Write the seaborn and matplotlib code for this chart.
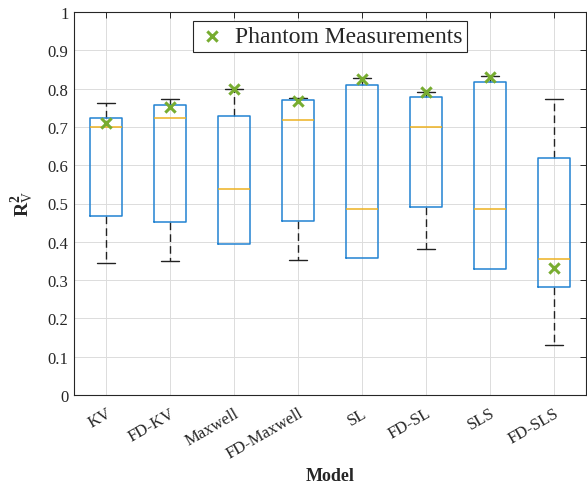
import numpy as np
import pandas as pd
import matplotlib
matplotlib.use("Agg")
import matplotlib.pyplot as plt
import matplotlib.colors as mcolors
import seaborn as sns

models = ["KV", "FD-KV", "Maxwell", "FD-Maxwell", "SL", "FD-SL", "SLS", "FD-SLS"]
lower_whisker = [0.345, 0.349, 0.394, 0.353, 0.358, 0.382, 0.330, 0.131]
q1 = [0.468, 0.452, 0.394, 0.454, 0.358, 0.491, 0.330, 0.283]
median = [0.699, 0.722, 0.537, 0.719, 0.485, 0.700, 0.485, 0.356]
q3 = [0.723, 0.757, 0.728, 0.771, 0.809, 0.778, 0.817, 0.618]
upper_whisker = [0.762, 0.773, 0.800, 0.775, 0.827, 0.792, 0.833, 0.774]
phantom = [0.710, 0.753, 0.800, 0.768, 0.825, 0.790, 0.830, 0.332]
yticks = [0, 0.1, 0.2, 0.3, 0.4, 0.5, 0.6, 0.7, 0.8, 0.9, 1]
ytick_labels = ["0", "0.1", "0.2", "0.3", "0.4", "0.5", "0.6", "0.7", "0.8", "0.9", "1"]

rows = []
for i, m in enumerate(models):
    for v in (lower_whisker[i], q1[i], median[i], q3[i], upper_whisker[i]):
        rows.append({"Model": m, "value": v})
df = pd.DataFrame(rows)
pf = pd.DataFrame({"Model": models, "value": phantom})

sns.set_style("white")
plt.rcParams["font.family"] = ["Liberation Serif", "DejaVu Serif"]
plt.rcParams["mathtext.fontset"] = "custom"
plt.rcParams["mathtext.rm"] = "Liberation Serif"
plt.rcParams["mathtext.bf"] = "Liberation Serif:bold"
plt.rcParams["mathtext.it"] = "Liberation Serif:italic"

fig = plt.figure(figsize=(5.87, 4.85), dpi=100)
ax = fig.add_axes([74 / 587, 89 / 485, 512 / 587, 383 / 485])

blue = "#2283d2"
orange = "#EDB120"
green = "#77AC30"
dark = "#262626"
whisk = "#222222"

sns.boxplot(data=df, x="Model", y="value", order=models, whis=(0, 100), width=0.5,
            fill=False, showfliers=False, ax=ax, color=blue, linewidth=1.1,
            boxprops=dict(color=blue, linewidth=1.1),
            medianprops=dict(color=orange, linewidth=1.1),
            whiskerprops=dict(color=whisk, linestyle=(0, (5.5, 3)), linewidth=1.0),
            capprops=dict(color=whisk, linewidth=1.0),
            capwidths=0.28)

# hide caps of zero-length whiskers (they sit on the box edge in the reference)
whisk_hex = mcolors.to_hex(whisk)
dashed = []
solid_dark = []
for ln in ax.lines:
    if mcolors.to_hex(ln.get_color()) != whisk_hex:
        ln.set_zorder(3.5)
        continue
    ln.set_zorder(2.5)
    ls = ln.get_linestyle()
    if ls in ("-", "solid"):
        solid_dark.append(ln)
    else:
        dashed.append(ln)
for cap in solid_dark:
    cx = np.mean(np.asarray(cap.get_xdata(), dtype=float))
    cy = float(np.asarray(cap.get_ydata(), dtype=float)[0])
    for w in dashed:
        wx = np.asarray(w.get_xdata(), dtype=float)
        wy = np.asarray(w.get_ydata(), dtype=float)
        if abs(wx[0] - cx) < 1e-6 and abs(wy[0] - wy[1]) < 1e-9 and abs(wy[0] - cy) < 1e-9:
            cap.set_visible(False)
            w.set_visible(False)

sns.scatterplot(data=pf, x="Model", y="value", marker="x", s=55, color=green,
                linewidth=2.2, label="Phantom Measurements", ax=ax, zorder=5)

ax.set_xlim(-0.5, 7.5)
ax.set_ylim(0, 1)
ax.set_yticks(yticks)
ax.set_yticklabels(ytick_labels)
ax.grid(True, color="#dcdcdc", linewidth=0.7)
ax.set_axisbelow(True)
for s in ax.spines.values():
    s.set_visible(True)
    s.set_color(dark)
    s.set_linewidth(0.8)
ax.tick_params(axis="both", direction="in", length=4, width=0.7, color=dark,
               labelcolor=dark, labelsize=12, top=True, right=True)
ax.tick_params(axis="y", pad=4)
ax.tick_params(axis="x", pad=7)
plt.setp(ax.get_xticklabels(), rotation=30, ha="right", va="top", rotation_mode="anchor")

ax.set_xlabel("Model", fontsize=13, fontweight="bold", color=dark, labelpad=4)
ax.set_ylabel(r"$\mathbf{R}_{\mathrm{V}}^{\mathbf{2}}$", fontsize=14, color=dark, labelpad=8)

leg = ax.legend(loc="upper center", bbox_to_anchor=(0.5, 0.977), fontsize=17,
                frameon=True, fancybox=False, edgecolor=dark, framealpha=1,
                handletextpad=0.4, borderpad=0.2, handlelength=1.2, borderaxespad=0)
leg.get_frame().set_linewidth(0.8)

fig.savefig("out.png", dpi=100)
